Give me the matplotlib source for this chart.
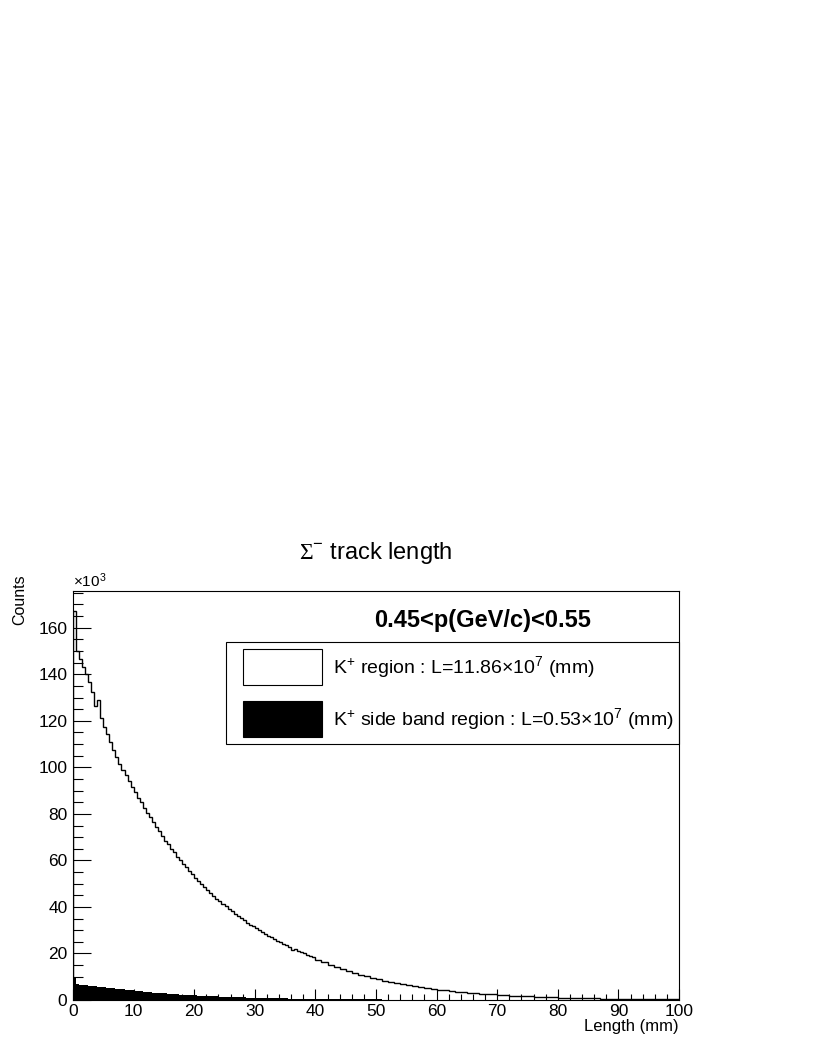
import numpy as np
import matplotlib.pyplot as plt
import matplotlib as mpl
from matplotlib.patches import Rectangle

mpl.rcParams.update({'font.family': 'Liberation Sans',
                     'mathtext.fontset': 'custom',
                     'mathtext.rm': 'Liberation Sans',
                     'mathtext.sf': 'Liberation Serif',
                     'mathtext.default': 'regular'})

## Histogram data (counts in units of 10^3)
# bins: 0.5 mm wide from 0 to 40 mm, 1 mm wide from 40 to 100 mm
bin_edges = np.concatenate([np.arange(0, 40, 0.5), np.arange(40, 101, 1.0)])

# K+ region
kplus_counts = [
    167, 150, 146.5, 143, 140, 136.5, 132.5, 126.5, 129, 121,
    117.5, 114.5, 111, 107.5, 104.5, 101.5, 99, 96.5, 94, 91.5,
    89.5, 87, 85, 82.5, 80.5, 78.5, 76.5, 74.5, 72.5, 70.5,
    68.5, 67, 65, 63.5, 61.5, 60, 58.5, 57, 55.5, 54,
    52.5, 51, 49.8, 48.5, 47.3, 46, 44.8, 43.6, 42.4, 41.3,
    40.2, 39.1, 38.1, 37.1, 36.1, 35.1, 34.2, 33.3, 32.4, 31.6,
    30.8, 30.0, 29.2, 28.4, 27.7, 26.9, 26.2, 25.5, 24.8, 24.2,
    23.5, 22.8, 21.3, 21.8, 21.1, 20.6, 20.0, 19.5, 19.0, 18.4,
    # 1 mm bins, 40-100 mm
    17.3, 16.2, 15.2, 14.2, 13.3, 12.4, 11.6, 10.9, 10.2, 9.5,
    8.9, 8.3, 7.8, 7.3, 6.8, 6.35, 5.95, 5.55, 5.2, 4.85,
    4.5, 4.2, 3.9, 3.65, 3.4, 3.15, 2.95, 2.75, 2.55, 2.4,
    2.2, 2.05, 1.9, 1.78, 1.65, 1.53, 1.42, 1.32, 1.22, 1.13,
    1.05, 0.97, 0.9, 0.83, 0.77, 0.71, 0.66, 0.61, 0.56, 0.52,
    0.48, 0.44, 0.41, 0.38, 0.35, 0.32, 0.29, 0.27, 0.25, 0.23,
]

# K+ side band region
side_counts = [
    9.8, 6.8, 6.6, 6.5, 6.3, 6.2, 6.0, 5.9, 5.7, 5.6,
    5.4, 5.3, 5.15, 5.0, 4.85, 4.7, 4.55, 4.4, 4.25, 4.1,
    3.95, 3.8, 3.7, 3.55, 3.45, 3.3, 3.2, 3.1, 3.0, 2.9,
    2.8, 2.7, 2.6, 2.5, 2.42, 2.33, 2.25, 2.17, 2.1, 2.02,
    1.95, 1.88, 1.81, 1.75, 1.69, 1.63, 1.57, 1.51, 1.46, 1.41,
    1.36, 1.31, 1.26, 1.22, 1.18, 1.13, 1.09, 1.05, 1.02, 0.98,
    0.95, 0.91, 0.88, 0.85, 0.82, 0.79, 0.76, 0.73, 0.71, 0.68,
    0.66, 0.63, 0.61, 0.59, 0.57, 0.55, 0.53, 0.51, 0.49, 0.47,
    # 1 mm bins, 40-100 mm
    0.45, 0.42, 0.39, 0.36, 0.34, 0.32, 0.30, 0.28, 0.26, 0.24,
    0.22, 0.21, 0.19, 0.18, 0.17, 0.16, 0.15, 0.14, 0.13, 0.12,
    0.11, 0.10, 0.095, 0.09, 0.085, 0.08, 0.075, 0.07, 0.065, 0.06,
    0.055, 0.05, 0.047, 0.044, 0.041, 0.038, 0.035, 0.033, 0.031, 0.029,
    0.027, 0.025, 0.023, 0.022, 0.02, 0.019, 0.018, 0.017, 0.016, 0.015,
    0.014, 0.013, 0.012, 0.011, 0.01, 0.01, 0.009, 0.009, 0.008, 0.008,
]

title_text = r'$\mathsf{\Sigma}^{-}$ track length'
header_text = '0.45<p(GeV/c)<0.55'
label_kplus = r'K$^{+}$ region : L=11.86$\times$10$^{7}$ (mm)'
label_side = r'K$^{+}$ side band region : L=0.53$\times$10$^{7}$ (mm)'

W, H = 814, 1053
fig = plt.figure(figsize=(W/100, H/100), dpi=100)

def fx(px):
    return px/W

def fy(py):
    return 1 - py/H

ax = fig.add_axes([fx(73), fy(1000), fx(679) - fx(73), fy(591) - fy(1000)])

ax.stairs(side_counts, bin_edges, fill=True, color='black', lw=0)
ax.stairs(kplus_counts, bin_edges, color='black', lw=1.0)

ax.set_xlim(0, 100)
ax.set_ylim(0, 175.8)
ax.set_xticks(np.arange(0, 101, 10))
ax.set_xticks(np.arange(0, 101, 2), minor=True)
ax.set_yticks(np.arange(0, 161, 20))
ax.set_yticks(np.arange(0, 176, 5), minor=True)
ax.tick_params(axis='both', which='both', direction='in', width=0.8,
               top=False, right=False, labelsize=12.5)
ax.tick_params(axis='y', which='major', length=13, pad=4)
ax.tick_params(axis='y', which='minor', length=7)
ax.tick_params(axis='x', which='major', length=8, pad=3)
ax.tick_params(axis='x', which='minor', length=4)
for s in ax.spines.values():
    s.set_linewidth(0.8)

# Titles and axis labels
fig.text(fx(376), fy(553), title_text, ha='center', va='center', fontsize=17)
fig.text(fx(73), fy(587), r'$\times$10$^{3}$', ha='left', va='baseline', fontsize=11)
fig.text(fx(20), fy(574), 'Counts', rotation=90, ha='center', va='top', fontsize=11.5)
fig.text(fx(679), fy(1019), 'Length (mm)', ha='right', va='top', fontsize=12)

# Legend
fig.text(fx(483), fy(620), header_text, ha='center', va='center',
         fontsize=17, fontweight='bold')
fig.patches.append(Rectangle((fx(226), fy(744)), fx(679) - fx(226), fy(641.7) - fy(744),
                             transform=fig.transFigure, fill=False, ec='black', lw=0.8))
fig.patches.append(Rectangle((fx(243), fy(685)), fx(322) - fx(243), fy(649) - fy(685),
                             transform=fig.transFigure, fc='white', ec='black', lw=0.8))
fig.patches.append(Rectangle((fx(243), fy(737)), fx(322) - fx(243), fy(701) - fy(737),
                             transform=fig.transFigure, fc='black', ec='black', lw=0.8))
fig.text(fx(333), fy(667), label_kplus, ha='left', va='center', fontsize=14)
fig.text(fx(333), fy(719), label_side, ha='left', va='center', fontsize=14)

fig.savefig('out.png', dpi=100)
